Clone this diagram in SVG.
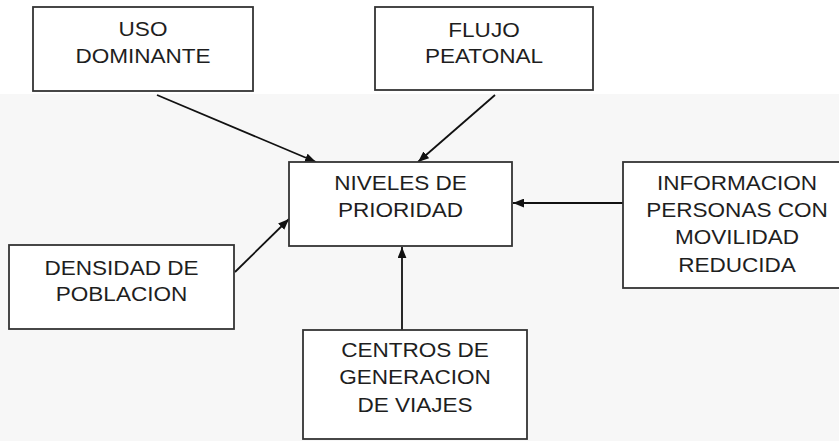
<svg xmlns="http://www.w3.org/2000/svg" width="839" height="441" viewBox="0 0 839 441">
<style>
.box{fill:#ffffff;stroke:#333333;stroke-width:1.8}
.lbl{font-family:"Liberation Sans",Arial,sans-serif;font-size:20.5px;fill:#1e1e1e;text-anchor:middle}
.conn{stroke:#111;stroke-width:1.8;fill:none;marker-end:url(#ah)}
</style>
<defs>
<marker id="ah" viewBox="0 0 10 8" refX="10" refY="4" markerWidth="11" markerHeight="9" markerUnits="userSpaceOnUse" orient="auto">
<path d="M0,0 L10,4 L0,8 z" fill="#111"/>
</marker>
</defs>
<rect x="0" y="0" width="839" height="441" fill="#ffffff"/>
<rect x="0" y="94" width="839" height="347" fill="#f7f7f7"/>
<g id="connectors">
<line class="conn" x1="157" y1="95" x2="316" y2="162"/>
<line class="conn" x1="495" y1="95" x2="418" y2="162"/>
<line class="conn" x1="235" y1="272" x2="289" y2="219"/>
<line class="conn" x1="623" y1="203" x2="513" y2="203"/>
<line class="conn" x1="402" y1="330" x2="402" y2="247"/>
</g>
<g id="uso">
<rect class="box" x="33" y="7" width="220" height="84"/>
<text class="lbl" transform="translate(143,36) scale(1.1,1)"><tspan x="0" y="0">USO</tspan><tspan x="0" y="27">DOMINANTE</tspan></text>
</g>
<g id="flujo">
<rect class="box" x="375" y="7" width="218" height="83"/>
<text class="lbl" transform="translate(484,37) scale(1.1,1)"><tspan x="0" y="0">FLUJO</tspan><tspan x="0" y="26">PEATONAL</tspan></text>
</g>
<g id="niveles">
<rect class="box" x="289" y="162" width="223" height="84"/>
<text class="lbl" transform="translate(400.5,190) scale(1.1,1)"><tspan x="0" y="0">NIVELES DE</tspan><tspan x="0" y="27">PRIORIDAD</tspan></text>
</g>
<g id="informacion">
<rect class="box" x="623" y="162" width="228" height="126"/>
<text class="lbl" transform="translate(737,190) scale(1.1,1)"><tspan x="0" y="0">INFORMACION</tspan><tspan x="0" y="27">PERSONAS CON</tspan><tspan x="0" y="54">MOVILIDAD</tspan><tspan x="0" y="82">REDUCIDA</tspan></text>
</g>
<g id="densidad">
<rect class="box" x="9" y="245" width="225" height="84"/>
<text class="lbl" transform="translate(121.5,275) scale(1.1,1)"><tspan x="0" y="0">DENSIDAD DE</tspan><tspan x="0" y="26">POBLACION</tspan></text>
</g>
<g id="centros">
<rect class="box" x="303" y="330" width="224" height="109"/>
<text class="lbl" transform="translate(415,357) scale(1.1,1)"><tspan x="0" y="0">CENTROS DE</tspan><tspan x="0" y="27">GENERACION</tspan><tspan x="0" y="55">DE VIAJES</tspan></text>
</g>
</svg>
